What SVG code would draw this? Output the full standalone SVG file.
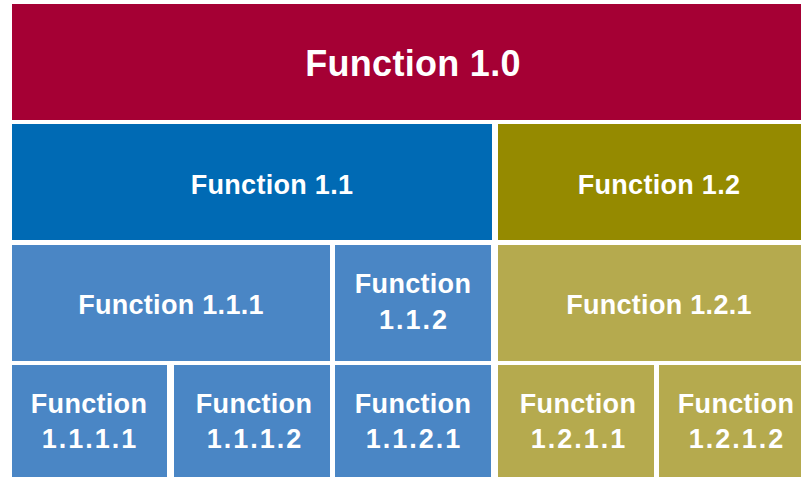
<svg xmlns="http://www.w3.org/2000/svg" width="801" height="477" viewBox="0 0 801 477">
<style>
text{font-family:"Liberation Sans",Arial,sans-serif;font-weight:bold;fill:#fff;text-anchor:middle;font-size:27px;letter-spacing:0.3px}
.big{font-size:36px}
.num{letter-spacing:2px}
.red{fill:#A50034}.blue{fill:#006AB4}.olive{fill:#958A00}.lb{fill:#4A86C5}.lo{fill:#B5AA4E}
</style>
<rect width="801" height="477" fill="#fff"/>
<g id="f1_0"><rect class="red" x="12" y="4" width="789" height="116"/><text class="big" x="413" y="76">Function 1.0</text></g>
<g id="f1_1"><rect class="blue" x="12" y="124" width="480" height="116"/><text x="272" y="194">Function 1.1</text></g>
<g id="f1_2"><rect class="olive" x="498" y="124" width="303" height="116"/><text x="659" y="194">Function 1.2</text></g>
<g id="f1_1_1"><rect class="lb" x="12" y="245" width="318" height="116"/><text x="171" y="314">Function 1.1.1</text></g>
<g id="f1_1_2"><rect class="lb" x="335" y="245" width="156" height="116"/><text x="413" y="293">Function</text><text class="num" x="414" y="329">1.1.2</text></g>
<g id="f1_2_1"><rect class="lo" x="498" y="245" width="303" height="116"/><text x="659" y="314">Function 1.2.1</text></g>
<g id="f1_1_1_1"><rect class="lb" x="12" y="365" width="155" height="112"/><text x="89" y="413">Function</text><text class="num" x="90" y="448">1.1.1.1</text></g>
<g id="f1_1_1_2"><rect class="lb" x="174" y="365" width="156" height="112"/><text x="254" y="413">Function</text><text class="num" x="255" y="448">1.1.1.2</text></g>
<g id="f1_1_2_1"><rect class="lb" x="335" y="365" width="156" height="112"/><text x="413" y="413">Function</text><text class="num" x="414" y="448">1.1.2.1</text></g>
<g id="f1_2_1_1"><rect class="lo" x="498" y="365" width="156" height="112"/><text x="578" y="413">Function</text><text class="num" x="579" y="448">1.2.1.1</text></g>
<g id="f1_2_1_2"><rect class="lo" x="659" y="365" width="142" height="112"/><text x="736" y="413">Function</text><text class="num" x="737" y="448">1.2.1.2</text></g>
<g id="connectors"/>
</svg>
